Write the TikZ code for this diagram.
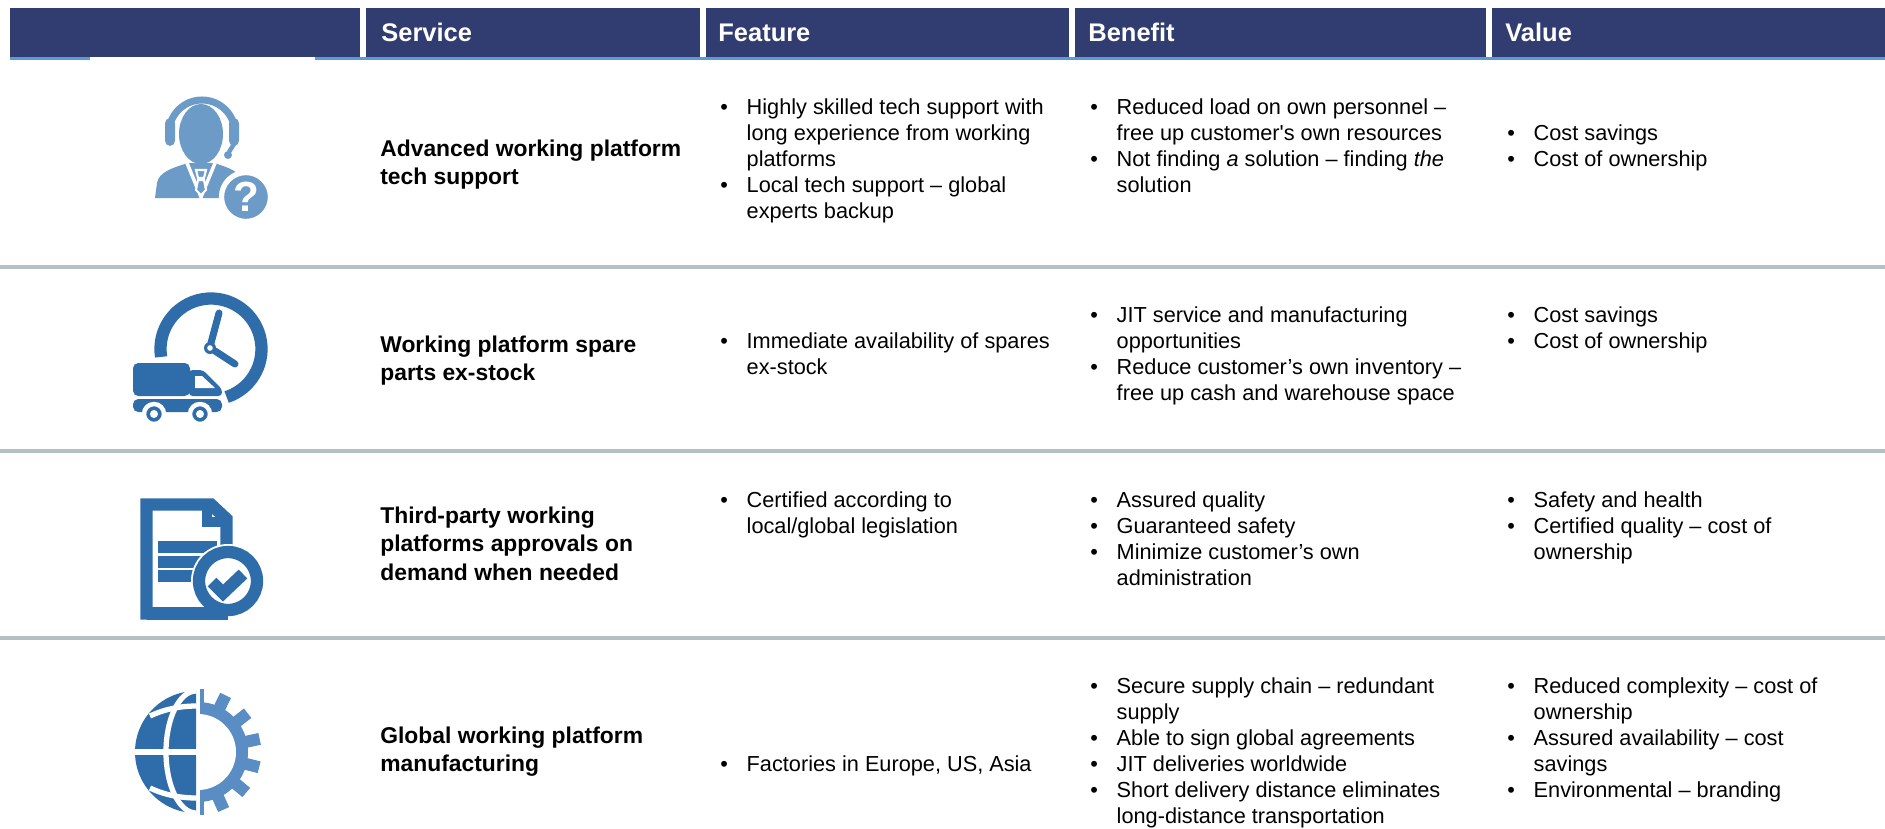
\documentclass[tikz,border=0pt]{standalone}
\usepackage{fontspec}
\setmainfont{Liberation Sans}[Ligatures=TeXOff]

\definecolor{headnavy}{HTML}{313D71}
\definecolor{headline}{HTML}{5B9BD5}
\definecolor{rulegray}{HTML}{B5C0C4}
\definecolor{iconblue}{HTML}{2F6DAA}
\definecolor{personblue}{HTML}{6C9BC8}
\definecolor{gearblue}{HTML}{5A8DC3}

\newcommand{\bl}[1]{\par\noindent\hangindent=15pt\hangafter=1\makebox[15pt][l]{\textbullet}#1\par}
\newcommand{\listbox}[1]{\begin{minipage}[t]{300pt}\fontsize{12.36}{14.85}\selectfont#1\end{minipage}}
\newcommand{\svcbox}[1]{\begin{minipage}[t]{300pt}\fontsize{13}{16.4}\selectfont\bfseries#1\end{minipage}}

\begin{document}
\begin{tikzpicture}[x=0.2mm, y=0.2mm,
    cell/.style={anchor=base west, inner sep=0pt},
    head/.style={anchor=base west, inner sep=0pt, text=white, font=\fontsize{14.5}{17}\selectfont\bfseries}]
\useasboundingbox (0,0) rectangle (1885,-828);

% header band
\fill[headnavy] (10,-8) rectangle (1885,-57);
\fill[headline] (10,-57) rectangle (90,-60);
\fill[headline] (315,-57) rectangle (1885,-60);
\foreach \x in {363,703,1072,1489}
    \draw[white, line width=3] (\x,-8) -- (\x,-57);
\node (hsvc) [head] at (381,-41) {Service};
\node (hfeat) [head] at (718,-41) {Feature};
\node (hben) [head] at (1088,-41) {Benefit};
\node (hval) [head] at (1505,-41) {Value};

% row rules
\foreach \y in {267,451,638}
    \draw[rulegray, line width=2.7] (0,-\y) -- (1885,-\y);

% person with headset
\draw[personblue, line width=4] (169,-133) arc[start angle=180, end angle=0, radius=33];
\fill[personblue, rounded corners=3] (165,-118) rectangle (175,-146);
\fill[personblue, rounded corners=3] (229,-118) rectangle (239,-146);
\draw[personblue, line width=2.5] (234,-144) -- (229,-152);
\fill[personblue] (228,-155) circle (4);
\fill[personblue] (201,-134) ellipse (22 and 30);
\fill[personblue] (155,-198) -- (157,-183) .. controls (159,-172) and (172,-168) .. (188,-163)
    -- (214,-163) .. controls (230,-168) and (241,-172) .. (243,-183) -- (245,-198) -- cycle;
\draw[white, line width=2] (187,-163) -- (201,-197) -- (215,-163);
\fill[personblue, draw=white, line width=1.2] (196,-170) -- (206,-170) -- (204,-178) -- (198,-178) -- cycle;
\fill[personblue, draw=white, line width=1.2] (198,-180) -- (204,-180) -- (206,-190) -- (201,-195) -- (196,-190) -- cycle;
\fill[personblue, draw=white, line width=3] (246,-197) circle (24.5);
\node (qmark) [text=white, inner sep=0pt, font=\fontsize{24}{24}\selectfont\bfseries] at (246,-197) {?};

% truck and clock
\draw[iconblue, line width=7] (211,-349) ++(189:50.5) arc[start angle=189, end angle=-72, radius=50.5];
\draw[iconblue, line width=4, line cap=round] (211,-343) -- (219,-313);
\draw[iconblue, line width=4, line cap=round] (215,-351) -- (235,-364);
\fill[iconblue] (210,-348) circle (6);
\fill[white] (210,-348) circle (2.8);
\fill[iconblue, rounded corners=3] (133,-363) rectangle (190,-396);
\fill[iconblue, rounded corners=2] (189,-370) -- (203,-370) -- (222,-389) -- (222,-396) -- (189,-396) -- cycle;
\fill[white] (195,-376) -- (202,-376) -- (215,-388) -- (195,-388) -- cycle;
\fill[iconblue, rounded corners=3] (133,-399) rectangle (222,-412);
\foreach \x in {154,200} {
    \fill[iconblue, draw=white, line width=2.5] (\x,-414) circle (10);
    \fill[white] (\x,-414) circle (4);
}

% document with check
\draw[iconblue, line width=7] (226.5,-555) -- (226.5,-519) -- (211,-504.5) -- (146.5,-504.5) -- (146.5,-613.5) -- (200,-613.5);
\draw[iconblue, line width=6] (207,-505) -- (207,-522) -- (226,-522);
\draw[iconblue, line width=6.5] (158,-547) -- (217,-547);
\draw[iconblue, line width=6.5] (158,-562) -- (207,-562);
\draw[iconblue, line width=6.5] (158,-576) -- (203,-576);
\fill[white] (228,-581) circle (37);
\draw[iconblue, line width=7] (146.5,-613.5) -- (228,-613.5);
\draw[iconblue, line width=7] (228,-581) circle (29);
\draw[iconblue, line width=7] (212,-582) -- (223,-593) -- (243,-574);

% globe and gear
\fill[iconblue] (196,-691) arc[start angle=90, end angle=270, radius=61] -- cycle;
\draw[white, line width=3] (134,-752) -- (197,-752);
\draw[white, line width=3] (196,-691) arc[start angle=90, end angle=270, x radius=30, y radius=61];
\draw[white, line width=3] (150,-716) .. controls (165,-709) and (180,-706) .. (197,-706);
\draw[white, line width=3] (150,-788) .. controls (165,-795) and (180,-798) .. (197,-798);
\begin{scope}
    \clip (200,-685) rectangle (265,-820);
    \fill[gearblue] (198,-752) circle (50);
    \foreach \a in {90,64,38,12,-14,-40,-66,-90}
        \fill[gearblue, rotate around={\a:(198,-752)}] (244,-758) rectangle (261,-746);
    \fill[white] (198,-752) circle (38);
\end{scope}

% service column
\node (svc1) [cell] at (380,-156) {\svcbox{Advanced working platform\\ tech support}};
\node (svc2) [cell] at (380,-352) {\svcbox{Working platform spare\\ parts ex-stock}};
\node (svc3) [cell] at (380,-523) {\svcbox{Third-party working\\ platforms approvals on\\ demand when needed}};
\node (svc4) [cell] at (380,-743) {\svcbox{Global working platform\\ manufacturing}};

% feature column
\node (feat1) [cell] at (720,-114) {\listbox{\bl{Highly skilled tech support with\\ long experience from working\\ platforms}\bl{Local tech support – global\\ experts backup}}};
\node (feat2) [cell] at (720,-348) {\listbox{\bl{Immediate availability of spares\\ ex-stock}}};
\node (feat3) [cell] at (720,-507) {\listbox{\bl{Certified according to\\ local/global legislation}}};
\node (feat4) [cell] at (720,-771) {\listbox{\bl{Factories in Europe, US, Asia}}};

% benefit column
\node (ben1) [cell] at (1090,-114) {\listbox{\bl{Reduced load on own personnel –\\ free up customer's own resources}\bl{Not finding \textit{a} solution – finding \textit{the}\\ solution}}};
\node (ben2) [cell] at (1090,-322) {\listbox{\bl{JIT service and manufacturing\\ opportunities}\bl{Reduce customer’s own inventory –\\ free up cash and warehouse space}}};
\node (ben3) [cell] at (1090,-507) {\listbox{\bl{Assured quality}\bl{Guaranteed safety}\bl{Minimize customer’s own\\ administration}}};
\node (ben4) [cell] at (1090,-693) {\listbox{\bl{Secure supply chain – redundant\\ supply}\bl{Able to sign global agreements}\bl{JIT deliveries worldwide}\bl{Short delivery distance eliminates\\ long-distance transportation}}};

% value column
\node (val1) [cell] at (1507,-140) {\listbox{\bl{Cost savings}\bl{Cost of ownership}}};
\node (val2) [cell] at (1507,-322) {\listbox{\bl{Cost savings}\bl{Cost of ownership}}};
\node (val3) [cell] at (1507,-507) {\listbox{\bl{Safety and health}\bl{Certified quality – cost of\\ ownership}}};
\node (val4) [cell] at (1507,-693) {\listbox{\bl{Reduced complexity – cost of\\ ownership}\bl{Assured availability – cost\\ savings}\bl{Environmental – branding}}};
\end{tikzpicture}
\end{document}
